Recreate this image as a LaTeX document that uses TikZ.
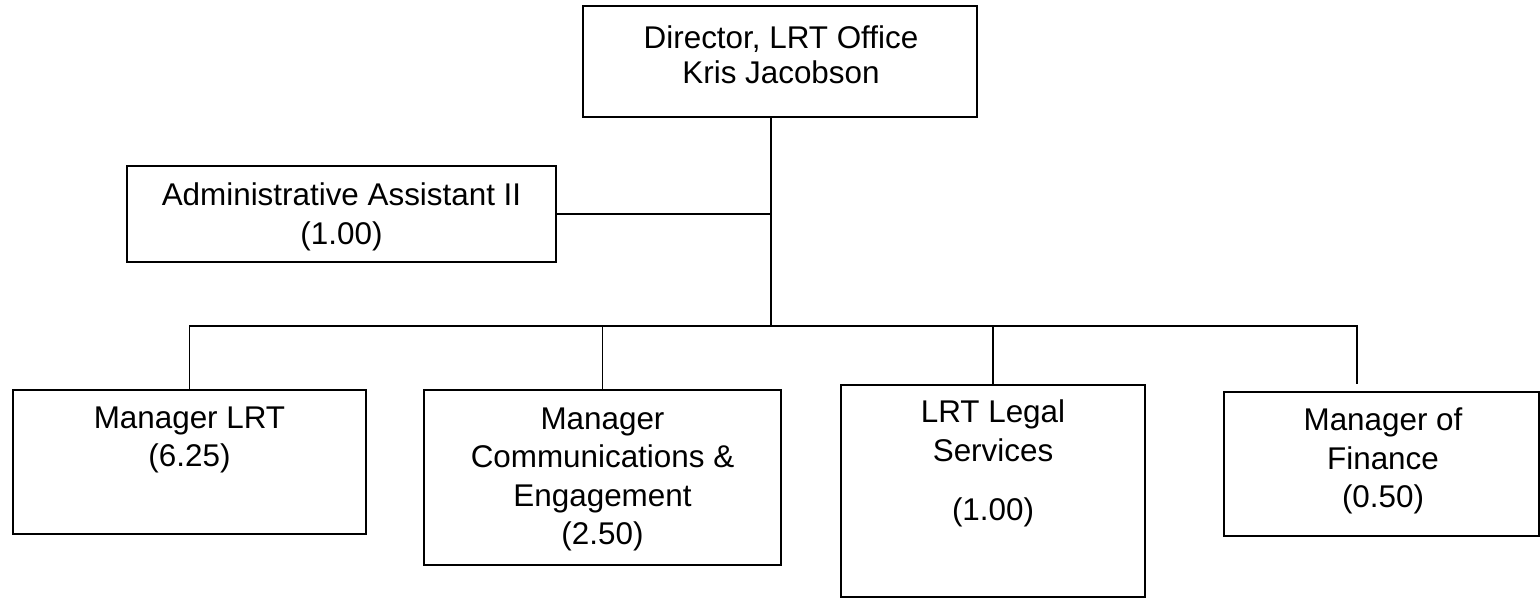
\documentclass[tikz,border=0pt]{standalone}
\usepackage{fontspec}
\setmainfont{Liberation Sans}
\tikzset{
    box/.style={draw=black, line width=1.1pt, inner sep=0pt},
    txt/.style={align=center, inner sep=0pt, font=\fontsize{15.7}{19.2}\selectfont},
    link/.style={line width=0.8pt, black}
}

\begin{document}
\begin{tikzpicture}[x=0.5pt, y=-0.5pt]
        \useasboundingbox (0,0) rectangle (1540,598);
        % boxes, with their texts
        \node[box, minimum width=197pt, minimum height=55.5pt] (dir) at (780,61.5) {};
        \node[txt, font=\fontsize{15.7}{17.5}\selectfont] (dir-t) at (781,54.5) {Director, LRT Office\\Kris Jacobson};
        \node[box, minimum width=214.5pt, minimum height=48pt] (adm) at (341.5,214) {};
        \node[txt] (adm-t) at (341.5,217) {Administrative Assistant II\\(1.00)};
        \node[box, minimum width=176.5pt, minimum height=72pt] (lrt) at (189.5,462) {};
        \node[txt] (lrt-t) at (189.5,440) {Manager LRT\\(6.25)};
        \node[box, minimum width=178.5pt, minimum height=87.5pt] (com) at (602.5,477.5) {};
        \node[txt] (com-t) at (602.5,479.5) {Manager\\Communications \&\\Engagement\\(2.50)};
        \node[box, minimum width=152pt, minimum height=106pt] (leg) at (993,491) {};
        \node[txt] (leg-t) at (993,463.5) {LRT Legal\\Services\\[10.5pt](1.00)};
        \node[box, minimum width=157.5pt, minimum height=72pt] (fin) at (1381.5,464) {};
        \node[txt] (fin-t) at (1383,461) {Manager of\\Finance\\(0.50)};
        % connectors
        \coordinate (hub) at (771,326);
        \coordinate (fin-end) at (1357,384);
        \draw[link] (dir.south -| hub) -- (hub);
        \draw[link] (adm.east) -- (adm.east -| hub);
        \draw[link] (lrt.north) -- (lrt.north |- hub) -- (fin-end |- hub) -- (fin-end);
        \draw[link] (com.north) -- (com.north |- hub);
        \draw[link] (leg.north) -- (leg.north |- hub);
    \end{tikzpicture}
\end{document}
